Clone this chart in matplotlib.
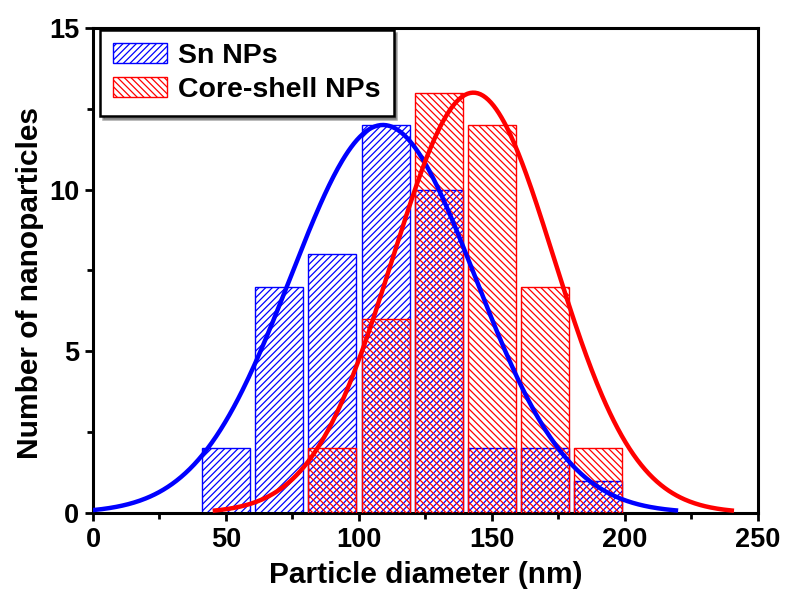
import numpy as np
import matplotlib
matplotlib.use("Agg")
import matplotlib.pyplot as plt
from matplotlib.patches import Patch
from matplotlib.ticker import MultipleLocator

# Data
sn_centers = [50, 70, 90, 110, 130, 150, 170, 190]
sn_counts = [2, 7, 8, 12, 10, 2, 2, 1]
cs_centers = [90, 110, 130, 150, 170, 190]
cs_counts = [2, 6, 13, 12, 7, 2]

# Gaussian fit parameters (amplitude, centre, sigma, x-range)
sn_fit = dict(amp=12.0, mu=109.0, sigma=34.8, xmin=0, xmax=220)
cs_fit = dict(amp=13.0, mu=143.0, sigma=30.3, xmin=45, xmax=241)

x_ticks = [0, 50, 100, 150, 200, 250]
y_ticks = [0, 5, 10, 15]

plt.rcParams['font.family'] = ['Liberation Sans', 'DejaVu Sans']
plt.rcParams['font.weight'] = 'bold'
plt.rcParams['hatch.linewidth'] = 0.9

fig = plt.figure(figsize=(7.86, 5.94), dpi=100)
ax = fig.add_axes([0.1183, 0.1364, 0.846, 0.8165])

w = 18
sn_hatch = '/////'
cs_hatch = '\\\\\\\\\\'
ax.bar(sn_centers, sn_counts, width=w, facecolor='none', edgecolor='blue',
       hatch=sn_hatch, linewidth=1.0, zorder=2)
ax.bar(cs_centers, cs_counts, width=w, facecolor='none', edgecolor='red',
       hatch=cs_hatch, linewidth=1.0, zorder=3)

def gauss(p):
    x = np.linspace(p['xmin'], p['xmax'], 400)
    return x, p['amp'] * np.exp(-(x - p['mu'])**2 / (2 * p['sigma']**2))

xs, ys = gauss(sn_fit)
ax.plot(xs, ys, color='blue', lw=3.2, zorder=4, solid_capstyle='butt')
xc, yc = gauss(cs_fit)
ax.plot(xc, yc, color='red', lw=3.2, zorder=5, solid_capstyle='butt')

ax.set_xlim(0, 250)
ax.set_ylim(0, 15)
ax.set_xticks(x_ticks)
ax.set_yticks(y_ticks)
ax.xaxis.set_minor_locator(MultipleLocator(25))
ax.yaxis.set_minor_locator(MultipleLocator(2.5))
ax.tick_params(which='major', direction='out', length=6, width=2, labelsize=19.5, pad=4)
ax.tick_params(which='minor', direction='out', length=4, width=2)
ax.tick_params(top=False, right=False)
for lbl in ax.get_xticklabels() + ax.get_yticklabels():
    lbl.set_fontweight('bold')
for s in ax.spines.values():
    s.set_linewidth(2.2)

ax.set_xlabel('Particle diameter (nm)', fontsize=21.5, fontweight='bold', labelpad=6)
ax.set_ylabel('Number of nanoparticles', fontsize=21.5, fontweight='bold')
ax.yaxis.set_label_coords(-0.074, 0.474)

handles = [Patch(facecolor='none', edgecolor='blue', hatch=sn_hatch, label='Sn NPs'),
           Patch(facecolor='none', edgecolor='red', hatch=cs_hatch, label='Core-shell NPs')]
leg = ax.legend(handles=handles, loc='upper left', bbox_to_anchor=(0.0105, 0.996),
                borderaxespad=0, fancybox=False, shadow=True, frameon=True,
                prop={'weight': 'bold', 'size': 20.5}, handlelength=1.9, handleheight=0.7,
                labelspacing=0.3, borderpad=0.45, handletextpad=0.4)
leg.get_frame().set_edgecolor('black')
leg.get_frame().set_linewidth(1.8)

fig.savefig('out.png', dpi=100)
